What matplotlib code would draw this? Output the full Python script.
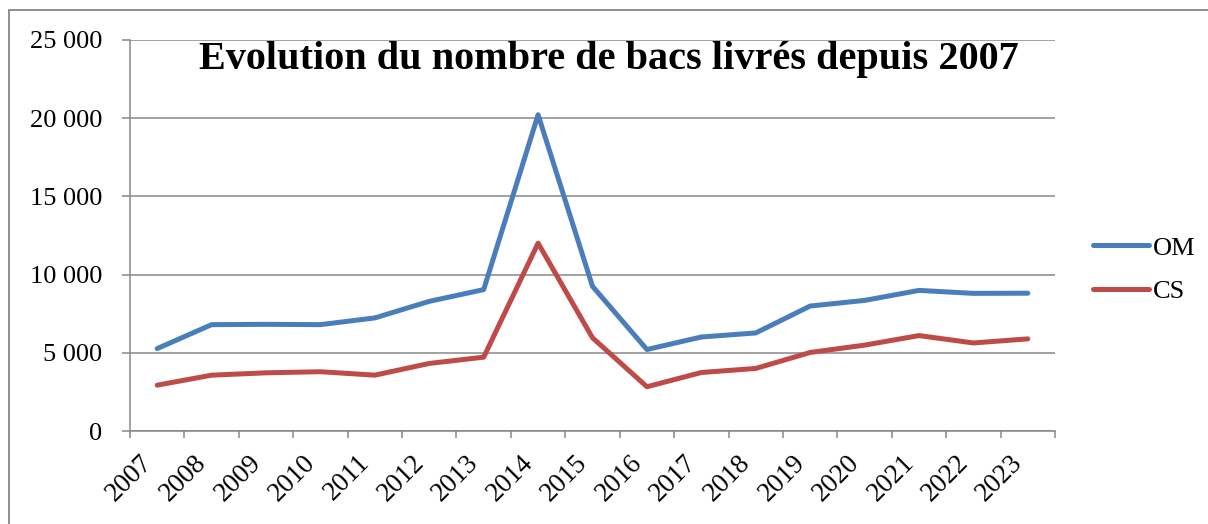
import matplotlib
matplotlib.use("Agg")
import matplotlib.pyplot as plt
from matplotlib.patches import Rectangle
from matplotlib.ticker import FixedLocator, FuncFormatter
from matplotlib.transforms import ScaledTranslation

years = ["2007", "2008", "2009", "2010", "2011", "2012", "2013", "2014", "2015",
         "2016", "2017", "2018", "2019", "2020", "2021", "2022", "2023"]
om = [5270, 6800, 6820, 6800, 7230, 8290, 9040, 20220, 9250,
      5210, 6010, 6270, 7990, 8350, 8990, 8800, 8810]
cs = [2930, 3570, 3720, 3790, 3570, 4320, 4720, 12010, 5960,
      2830, 3740, 4000, 5020, 5490, 6100, 5630, 5890]
series_names = ["OM", "CS"]
title = "Evolution du nombre de bacs livrés depuis 2007"

W, H = 1208, 524
fig = plt.figure(figsize=(W / 100, H / 100), dpi=100)
plt.rcParams['font.family'] = ['Liberation Serif', 'DejaVu Serif']

L, R, T, B = 130, 1055, 40, 431
ax = fig.add_axes([L / W, 1 - B / H, (R - L) / W, (B - T) / H])

grid_c = "#878787"
blue = "#4A7EBB"
red = "#BE4B48"

x = list(range(len(years)))
ax.plot(x, om, color=blue, lw=3.6, label=series_names[0],
        solid_capstyle="round", solid_joinstyle="round", zorder=3)
ax.plot(x, cs, color=red, lw=3.6, label=series_names[1],
        solid_capstyle="round", solid_joinstyle="round", zorder=3)

ax.set_xlim(-0.5, len(years) - 0.5)
ax.set_ylim(0, 25000)

ax.set_yticks(range(0, 25001, 5000))
ax.yaxis.set_major_formatter(FuncFormatter(lambda v, p: f"{int(v):,}".replace(",", " ")))
ax.yaxis.grid(True, color=grid_c, lw=1.1)
ax.set_axisbelow(True)

ax.set_xticks(x)
ax.set_xticklabels(years, rotation=45, ha="right")
shift = ScaledTranslation(8 / 100, 0, fig.dpi_scale_trans)
for lab in ax.get_xticklabels():
    lab.set_transform(lab.get_transform() + shift)
ax.xaxis.set_minor_locator(FixedLocator([i - 0.5 for i in range(len(years) + 1)]))
ax.tick_params(axis="x", which="major", length=0, pad=14, labelsize=19.5)
ax.tick_params(axis="x", which="minor", length=5, width=1.1, color=grid_c, direction="out")
ax.tick_params(axis="y", which="major", length=6, width=1.1, color=grid_c, pad=14, labelsize=19)

for s in ["top", "right"]:
    ax.spines[s].set_visible(False)
for s in ["left", "bottom"]:
    ax.spines[s].set_color(grid_c)
    ax.spines[s].set_linewidth(1.1)

fig.text(608.5 / W, 1 - 68.5 / H, title, ha="center", va="baseline",
         fontsize=29, fontweight="bold")

ax.legend(loc="center left", bbox_to_anchor=(1093 / W, 1 - 269.5 / H),
          bbox_transform=fig.transFigure, frameon=False, fontsize=19,
          handlelength=2.12, handletextpad=0.15, labelspacing=0.75,
          borderpad=0, borderaxespad=0)

fig.add_artist(Rectangle((9 / W, -0.2), 1.5, 1.2 - 10 / H, transform=fig.transFigure,
                         fill=False, edgecolor=grid_c, lw=1.3))

fig.savefig("out.png", dpi=100)
